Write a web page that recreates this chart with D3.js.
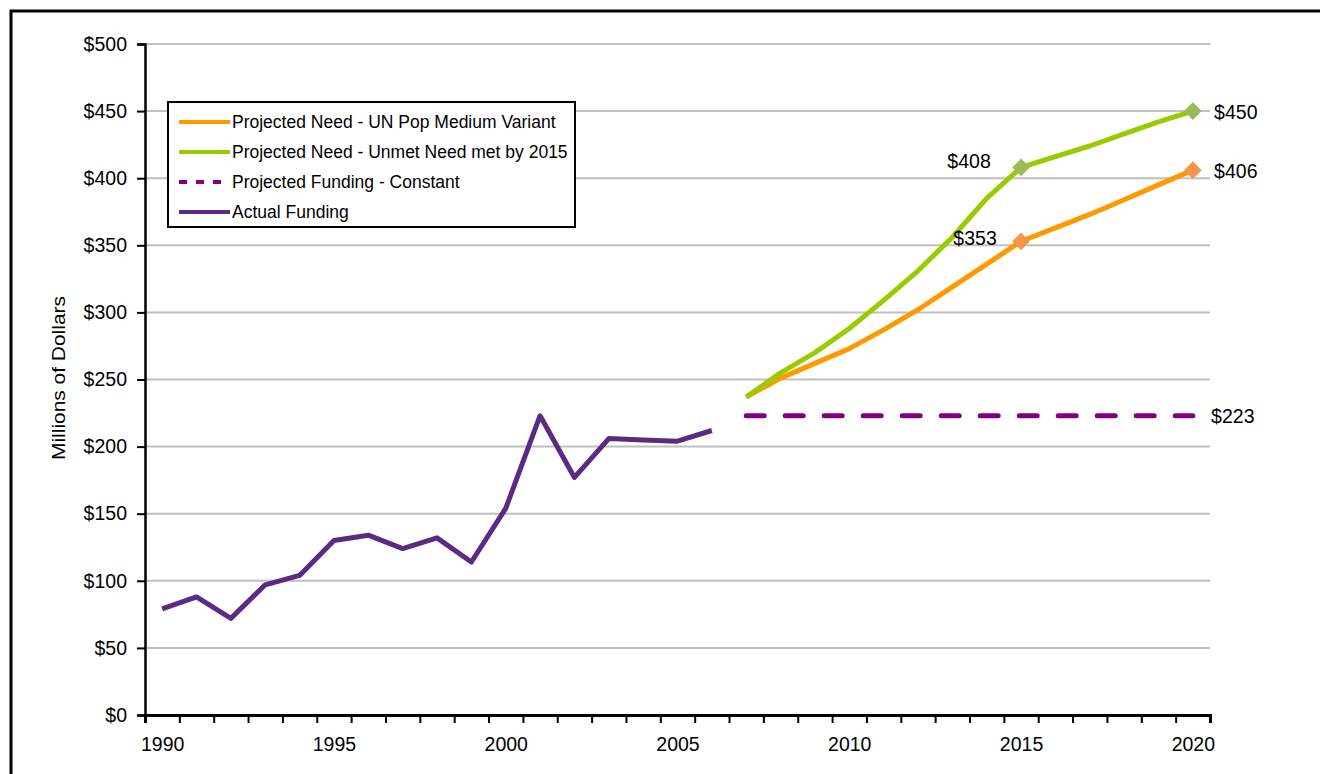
<!DOCTYPE html>
<html>
<head>
<meta charset="utf-8">
<script src="https://cdn.jsdelivr.net/npm/d3@7"></script>
<style>
  body { margin: 0; background: #fff; }
  svg { display: block; font-family: "Liberation Sans", Arial, sans-serif; }
</style>
</head>
<body>
<div id="chart"></div>
<script>
// years on the category axis
var years = d3.range(1990, 2021);
var yearLabels = [1990, 1995, 2000, 2005, 2010, 2015, 2020];

// Actual funding 1990-2006
var actualYears = d3.range(1990, 2007);
var actualFunding = [79, 88, 72, 97, 104, 130, 134, 124, 132, 114, 154, 223, 177, 206, 205, 204, 212];

// Projections 2007-2020
var projYears = d3.range(2007, 2021);
var needMedium = [237, 251, 262, 273, 287, 302, 319, 336, 353, 363, 373, 384, 395, 406];
var needUnmet = [237, 255, 270, 288, 309, 331, 356, 385, 408, 416, 424, 433, 442, 450];
var fundingConstant = [223, 223, 223, 223, 223, 223, 223, 223, 223, 223, 223, 223, 223, 223];

var yTicks = d3.range(0, 501, 50);

var W = 1320, H = 774;
var plotLeft = 145, plotRight = 1210, plotTop = 44, plotBottom = 715;

var svg = d3.select("#chart").append("svg")
    .attr("width", W)
    .attr("height", H);

// outer frame
svg.append("rect")
    .attr("x", 11).attr("y", 11)
    .attr("width", W + 20).attr("height", H + 20)
    .attr("fill", "none")
    .attr("stroke", "#000")
    .attr("stroke-width", 3);

var x = d3.scaleLinear().domain([1989.5, 2020.5]).range([plotLeft, plotRight]);
var y = d3.scaleLinear().domain([0, 500]).range([plotBottom, plotTop]);

// gridlines
svg.append("g")
    .selectAll("line")
    .data(yTicks)
    .enter().append("line")
    .attr("x1", plotLeft).attr("x2", plotRight)
    .attr("y1", function(d) { return y(d); })
    .attr("y2", function(d) { return y(d); })
    .attr("stroke", "#c0c0c0")
    .attr("stroke-width", 2);

// y axis
var yAxis = svg.append("g")
    .attr("transform", "translate(" + plotLeft + ",0)")
    .call(d3.axisLeft(y).tickValues(yTicks).tickSize(8).tickPadding(10)
        .tickFormat(function(d) { return "$" + d; }));
yAxis.select(".domain").attr("stroke", "#000").attr("stroke-width", 2.5);
yAxis.selectAll(".tick line").attr("stroke", "#000").attr("stroke-width", 2);
yAxis.selectAll("text")
    .attr("font-size", 19.5)
    .attr("font-family", "Liberation Sans, Arial, sans-serif")
    .attr("fill", "#000");

// x axis: ticks on category boundaries
var bounds = d3.range(1989.5, 2021, 1);
var xAxis = svg.append("g")
    .attr("transform", "translate(0," + plotBottom + ")")
    .call(d3.axisBottom(x).tickValues(bounds).tickSize(8).tickFormat(""));
xAxis.select(".domain").attr("stroke", "#000").attr("stroke-width", 3);
xAxis.selectAll(".tick line").attr("stroke", "#000").attr("stroke-width", 2);

var xLabels = svg.append("g")
    .attr("transform", "translate(0," + plotBottom + ")")
    .call(d3.axisBottom(x).tickValues(yearLabels).tickSize(0).tickPadding(22)
        .tickFormat(d3.format("d")));
xLabels.select(".domain").remove();
xLabels.selectAll("text")
    .attr("font-size", 19.5)
    .attr("font-family", "Liberation Sans, Arial, sans-serif")
    .attr("fill", "#000");

// y axis title
svg.append("text")
    .attr("transform", "translate(65,378) rotate(-90)")
    .attr("text-anchor", "middle")
    .attr("font-size", 19)
    .attr("textLength", 164)
    .attr("lengthAdjust", "spacingAndGlyphs")
    .text("Millions of Dollars");

var line = d3.line()
    .x(function(d) { return x(d[0]); })
    .y(function(d) { return y(d[1]); });

function pairs(xs, vs) {
    return xs.map(function(v, i) { return [v, vs[i]]; });
}

svg.append("path")
    .datum(pairs(projYears, fundingConstant))
    .attr("d", line)
    .attr("fill", "none")
    .attr("stroke", "#800080")
    .attr("stroke-width", 5)
    .attr("stroke-linecap", "round")
    .attr("stroke-dasharray", "18,21");

svg.append("path")
    .datum(pairs(projYears, needMedium))
    .attr("d", line)
    .attr("fill", "none")
    .attr("stroke", "#ff9900")
    .attr("stroke-width", 5)
    .attr("stroke-linejoin", "round");

svg.append("path")
    .datum(pairs(projYears, needUnmet))
    .attr("d", line)
    .attr("fill", "none")
    .attr("stroke", "#99cc00")
    .attr("stroke-width", 5)
    .attr("stroke-linejoin", "round");

svg.append("path")
    .datum(pairs(actualYears, actualFunding))
    .attr("d", line)
    .attr("fill", "none")
    .attr("stroke", "#5b2a82")
    .attr("stroke-width", 5)
    .attr("stroke-linejoin", "round");

// diamond markers and value labels
var markers = [
    {year: 2015, value: needUnmet[8], color: "#9bbb59", label: "$408", dx: -52, dy: -6},
    {year: 2020, value: needUnmet[13], color: "#9bbb59", label: "$450", dx: 43, dy: 1},
    {year: 2015, value: needMedium[8], color: "#f79646", label: "$353", dx: -46, dy: -3},
    {year: 2020, value: needMedium[13], color: "#f79646", label: "$406", dx: 43, dy: 1},
    {year: 2020, value: fundingConstant[13], color: null, label: "$223", dx: 40, dy: 0}
];
var diamond = d3.symbol().type(d3.symbolDiamond2).size(200);

var mk = svg.append("g").selectAll("g")
    .data(markers)
    .enter().append("g")
    .attr("transform", function(d) { return "translate(" + x(d.year) + "," + y(d.value) + ")"; });

mk.filter(function(d) { return d.color; })
    .append("path")
    .attr("d", diamond)
    .attr("fill", function(d) { return d.color; });

mk.append("text")
    .attr("x", function(d) { return d.dx; })
    .attr("y", function(d) { return d.dy; })
    .attr("dy", "0.35em")
    .attr("text-anchor", "middle")
    .attr("font-size", 19.5)
    .text(function(d) { return d.label; });

// legend
var legendItems = [
    {name: "Projected Need - UN Pop Medium Variant", color: "#ff9900", dash: null},
    {name: "Projected Need - Unmet Need met by 2015", color: "#99cc00", dash: null},
    {name: "Projected Funding - Constant", color: "#800080", dash: "8,9"},
    {name: "Actual Funding", color: "#5b2a82", dash: null}
];

var legend = svg.append("g").attr("transform", "translate(168,102)");
legend.append("rect")
    .attr("width", 407).attr("height", 125)
    .attr("fill", "#fff")
    .attr("stroke", "#000")
    .attr("stroke-width", 2);

var li = legend.selectAll(".item")
    .data(legendItems)
    .enter().append("g")
    .attr("class", "item")
    .attr("transform", function(d, i) { return "translate(0," + (20 + i * 30) + ")"; });

li.append("line")
    .attr("x1", 11).attr("x2", 62)
    .attr("stroke", function(d) { return d.color; })
    .attr("stroke-width", 4)
    .attr("stroke-dasharray", function(d) { return d.dash; });

li.append("text")
    .attr("x", 64)
    .attr("dy", "0.35em")
    .attr("font-size", 17.5)
    .text(function(d) { return d.name; });
</script>
</body>
</html>
